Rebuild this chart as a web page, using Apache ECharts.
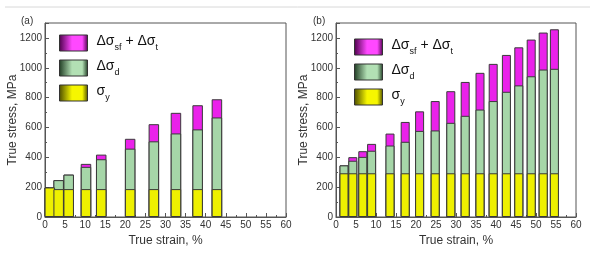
<!DOCTYPE html>
<html lang="en">
<head>
    <meta charset="UTF-8">
    <title>True stress contributions</title>
    <script src="https://cdn.jsdelivr.net/npm/echarts@6/dist/echarts.min.js"></script>
    <style>
        html, body { margin: 0; padding: 0; background: #fff; }
        #main { width: 596px; height: 256px; }
    </style>
</head>
<body>
<div id="main"></div>
<script type="text/javascript">
    // panel (a)
    var strainA = [1.2, 3.4, 5.9, 10.2, 14.0, 21.2, 27.1, 32.6, 38.0, 42.8];
    var sigmaYA = [198, 187, 187, 187, 187, 187, 187, 187, 187, 187];
    var dSigmaDA = [0, 60, 97, 149, 200, 271, 320, 373, 400, 480];
    var dSigmaSfTA = [0, 0, 0, 20, 31, 66, 115, 138, 162, 122];

    // panel (b)
    var strainB = [2.0, 4.2, 6.7, 8.9, 13.5, 17.3, 20.9, 24.8, 28.7, 32.3, 36.0, 39.3, 42.6, 45.7, 48.8, 51.8, 54.6];
    var sigmaYB = [293, 293, 293, 293, 293, 293, 293, 293, 293, 293, 293, 293, 293, 293, 293, 293, 293];
    var dSigmaDB = [53, 84, 110, 151, 186, 211, 284, 287, 338, 385, 427, 484, 546, 589, 650, 695, 700];
    var dSigmaSfTB = [0, 24, 38, 46, 80, 133, 131, 197, 212, 227, 246, 249, 247, 255, 246, 248, 265];

    var xTicks = { min: 0, max: 60, interval: 5 };
    var yTicks = { min: 0, max: 1300, interval: 200 };

    var legendText = {
        'sfT': '{m|Δσ}{s|sf}{m| + Δσ}{s|t}',
        'd': '{m|Δσ}{s|d}',
        'y': '{m|σ}{s|y}'
    };

    // the stack is drawn as overlapping bars: running sums, tallest first
    function stackTops(parts) {
        var run = parts[0].map(function () { return 0; });
        return parts.map(function (p) {
            run = run.map(function (v, i) { return v + p[i]; });
            return run.slice();
        });
    }

    function pairs(xs, ys) {
        return xs.map(function (x, i) { return [x, ys[i]]; });
    }

    function grad(dark, light) {
        return new echarts.graphic.LinearGradient(0, 0, 1, 0, [
            { offset: 0, color: dark },
            { offset: 0.45, color: light },
            { offset: 0.8, color: light },
            { offset: 1, color: dark }
        ]);
    }

    var colors = { y: '#eef000', d: '#a6d6a8', sfT: '#ea22ea' };
    var legendColors = {
        y: ['#4a4a00', '#f6f600'],
        d: ['#1e3a22', '#b2e0b4'],
        sfT: ['#4a0048', '#ff48ff']
    };

    function makeXAxis(idx) {
        return {
            type: 'value', gridIndex: idx,
            min: xTicks.min, max: xTicks.max, interval: xTicks.interval,
            name: 'True strain, %', nameLocation: 'middle', nameGap: 16,
            nameTextStyle: { fontSize: 12, color: '#333', fontFamily: 'Liberation Sans' },
            axisLine: { show: true, onZero: false, lineStyle: { color: '#555', width: 1 } },
            axisTick: { inside: true, length: 4, lineStyle: { color: '#555' } },
            minorTick: { show: true, splitNumber: 2, length: 2, lineStyle: { color: '#555' } },
            axisLabel: { fontSize: 10, color: '#333', margin: 3, fontFamily: 'Liberation Sans' },
            splitLine: { show: false }
        };
    }

    function makeYAxis(idx) {
        return {
            type: 'value', gridIndex: idx,
            min: yTicks.min, max: yTicks.max, interval: yTicks.interval,
            name: 'True stress, MPa', nameLocation: 'middle', nameGap: 26,
            nameMoveOverlap: false,
            nameTextStyle: { fontSize: 12, color: '#333', fontFamily: 'Liberation Sans' },
            axisLine: { show: true, lineStyle: { color: '#555', width: 1 } },
            axisTick: { inside: true, length: 4, lineStyle: { color: '#555' } },
            minorTick: { show: true, splitNumber: 2, length: 2, lineStyle: { color: '#555' } },
            axisLabel: {
                fontSize: 10, color: '#333', margin: 3, fontFamily: 'Liberation Sans',
                formatter: function (v) { return v > 1200 ? '' : v; }
            },
            splitLine: { show: false }
        };
    }

    function makeSeries(idx, xs, sy, sd, st, bw) {
        var tops = stackTops([sy, sd, st]);
        var list = [['sfT', tops[2]], ['d', tops[1]], ['y', tops[0]]];
        return list.map(function (it) {
            return {
                name: it[0], type: 'bar',
                xAxisIndex: idx, yAxisIndex: idx,
                barWidth: bw, barGap: '-100%',
                data: pairs(xs, it[1]),
                itemStyle: { color: colors[it[0]], borderColor: '#3a3a3a', borderWidth: 1 }
            };
        });
    }

    function makeLegend(left, top) {
        return {
            orient: 'vertical', left: left, top: top,
            itemWidth: 28, itemHeight: 16, itemGap: 7,
            icon: 'rect',
            selectedMode: false,
            data: ['sfT', 'd', 'y'].map(function (n) {
                return {
                    name: n,
                    itemStyle: {
                        color: grad(legendColors[n][0], legendColors[n][1]),
                        borderColor: '#333', borderWidth: 1
                    }
                };
            }),
            formatter: function (n) { return legendText[n]; },
            textStyle: {
                padding: [0, 0, 0, 4],
                rich: {
                    m: { fontSize: 14, color: '#111', fontFamily: 'Liberation Sans', lineHeight: 18, verticalAlign: 'top' },
                    s: { fontSize: 9, color: '#111', fontFamily: 'Liberation Sans', lineHeight: 18, verticalAlign: 'bottom' }
                }
            }
        };
    }

    var chart = echarts.init(document.getElementById('main'));
    var option = {
        animation: false,
        grid: [
            { left: 45, top: 23, width: 241, height: 194, show: true, borderColor: '#555', borderWidth: 1 },
            { left: 336, top: 23, width: 240, height: 194, show: true, borderColor: '#555', borderWidth: 1 }
        ],
        xAxis: [makeXAxis(0), makeXAxis(1)],
        yAxis: [makeYAxis(0), makeYAxis(1)],
        legend: [makeLegend(54, 29), makeLegend(349, 33)],
        graphic: [
            { type: 'line', shape: { x1: 5, y1: 7, x2: 590, y2: 7 }, style: { stroke: '#d8d8d8', lineWidth: 1 } },
            { type: 'text', left: 21, top: 16, style: { text: '(a)', fontSize: 10, fill: '#333', fontFamily: 'Liberation Sans' } },
            { type: 'text', left: 313, top: 16, style: { text: '(b)', fontSize: 10, fill: '#333', fontFamily: 'Liberation Sans' } }
        ],
        series: makeSeries(0, strainA, sigmaYA, dSigmaDA, dSigmaSfTA, 10.5)
            .concat(makeSeries(1, strainB, sigmaYB, dSigmaDB, dSigmaSfTB, 9))
    };
    option && chart.setOption(option);
</script>
</body>
</html>
